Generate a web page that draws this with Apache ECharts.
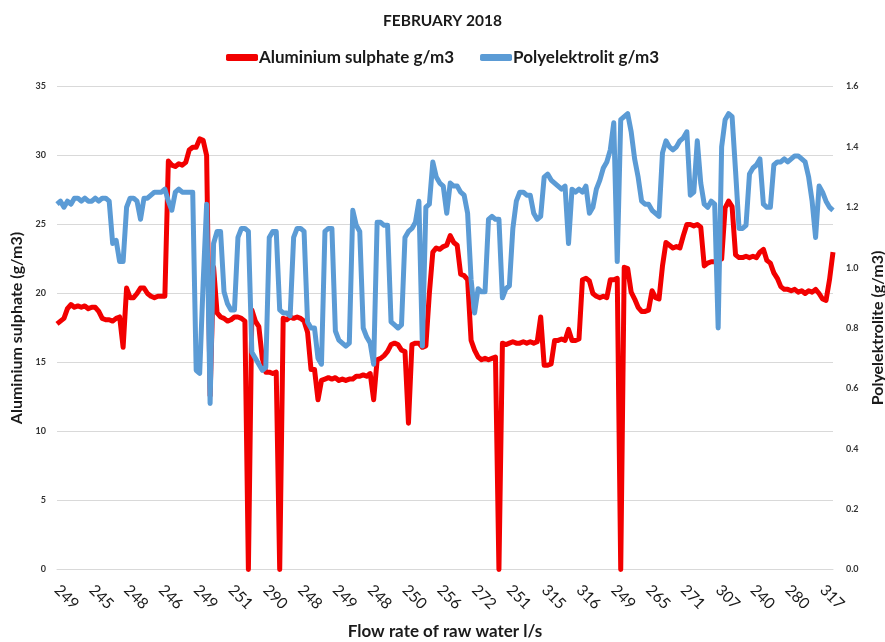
<!DOCTYPE html>
<html><head><meta charset="utf-8">
<script src="https://cdn.jsdelivr.net/npm/echarts@6/dist/echarts.min.js"></script>
<style>html,body{margin:0;padding:0;background:#fff}#c{width:885px;height:642px}</style>
</head><body><div id="c"></div>
<script>
const chartTitle = 'FEBRUARY 2018';
const seriesNames = ['Aluminium sulphate g/m3', 'Polyelektrolit g/m3'];
const leftAxisName = 'Aluminium sulphate (g/m3)';
const rightAxisName = 'Polyelektrolite (g/m3)';
const xAxisName = 'Flow rate of raw water l/s';
// flow-rate labels shown every labelStep readings
const flowLabels = ['249','245','248','246','249','251','290','248','249','248','250','256','272','251','315','316','249','265','271','307','240','280','317'];
const labelStep = 10;

const aluminium = [
17.8,18.0,18.2,18.9,19.2,19.0,19.1,19.0,19.1,18.9,
19.0,19.0,18.7,18.2,18.1,18.1,18.0,18.2,18.3,16.1,
20.4,19.7,19.7,20.0,20.4,20.4,20.0,19.8,19.7,19.8,
19.8,19.8,29.6,29.3,29.2,29.4,29.3,29.5,30.4,30.6,
30.6,31.2,31.1,30.0,12.6,21.9,18.6,18.3,18.2,18.0,
18.1,18.3,18.3,18.2,18.0,0,18.8,18.0,17.6,15.3,
14.3,14.3,14.2,14.3,0,18.2,18.1,18.3,18.2,18.3,
18.2,18.0,17.2,14.5,14.5,12.3,13.7,13.8,13.9,13.8,
13.9,13.7,13.8,13.7,13.8,13.8,14.0,14.0,14.1,14.0,
14.2,12.3,15.2,15.3,15.5,15.8,16.3,16.4,16.3,15.9,
15.8,10.6,16.3,16.4,16.4,16.1,16.2,20.0,23.0,23.3,
23.2,23.4,23.5,24.2,23.7,23.5,21.4,21.3,21.0,16.6,
15.9,15.4,15.2,15.3,15.2,15.3,15.4,0,16.4,16.3,
16.4,16.5,16.4,16.4,16.5,16.4,16.5,16.4,16.5,18.3,
14.8,14.8,14.9,16.6,16.6,16.7,16.6,17.4,16.6,16.6,
16.7,21.0,21.1,20.9,20.0,19.8,19.7,19.8,19.7,21.0,
21.0,21.1,0,21.9,21.8,20.1,19.6,19.0,18.7,18.7,
18.8,20.2,19.7,19.6,22.0,23.7,23.5,23.3,23.4,23.3,
24.2,25.0,25.0,24.9,25.0,24.8,22.0,22.2,22.3,22.3,
22.4,22.5,26.2,26.7,26.3,22.8,22.6,22.6,22.7,22.6,
22.7,22.6,23.0,23.2,22.4,22.2,21.5,21.1,20.5,20.3,
20.3,20.2,20.3,20.1,20.2,20.0,20.2,20.1,20.3,20.0,
19.6,19.5,21.0,23.0
];

const polyelektrolit = [
1.21,1.22,1.20,1.22,1.21,1.23,1.23,1.22,1.23,1.22,
1.22,1.23,1.22,1.23,1.23,1.22,1.08,1.09,1.02,1.02,
1.20,1.23,1.23,1.22,1.16,1.23,1.23,1.24,1.25,1.25,
1.25,1.26,1.22,1.19,1.25,1.26,1.25,1.25,1.25,1.25,
0.66,0.65,0.95,1.21,0.55,1.08,1.12,1.12,0.92,0.88,
0.86,0.86,1.10,1.13,1.13,1.12,0.72,0.70,0.68,0.66,
0.67,1.10,1.12,1.12,0.86,0.85,0.85,0.84,1.10,1.13,
1.13,1.12,0.82,0.80,0.80,0.70,0.68,1.12,1.13,1.13,
0.79,0.76,0.75,0.74,0.75,1.19,1.14,1.12,0.80,0.77,
0.75,0.68,1.15,1.15,1.14,1.14,0.82,0.81,0.80,0.81,
1.10,1.12,1.13,1.15,1.22,0.74,1.20,1.21,1.35,1.30,
1.28,1.27,1.18,1.28,1.27,1.27,1.25,1.24,1.18,0.96,
0.85,0.93,0.92,0.92,1.16,1.17,1.16,1.16,0.90,0.93,
0.94,1.13,1.22,1.25,1.25,1.24,1.24,1.18,1.16,1.17,
1.30,1.31,1.29,1.28,1.27,1.26,1.27,1.08,1.26,1.25,
1.26,1.25,1.27,1.18,1.20,1.26,1.29,1.33,1.35,1.39,
1.48,1.02,1.49,1.50,1.51,1.45,1.36,1.30,1.22,1.21,
1.21,1.19,1.18,1.17,1.38,1.42,1.40,1.39,1.40,1.42,
1.43,1.45,1.24,1.25,1.42,1.28,1.21,1.20,1.22,1.21,
0.80,1.40,1.49,1.51,1.50,1.32,1.13,1.13,1.14,1.31,
1.33,1.34,1.36,1.21,1.20,1.20,1.34,1.35,1.35,1.36,
1.35,1.36,1.37,1.37,1.36,1.35,1.30,1.22,1.10,1.27,
1.25,1.22,1.20,1.19
];

const leftTicks = {min: 0, max: 35, interval: 5};
const rightTicks = {min: 0, max: 1.6, interval: 0.2};

const categories = aluminium.map((_, i) => String(i));
const FONT = 'Lato, "Open Sans", sans-serif';

const chart = echarts.init(document.getElementById('c'), null, {renderer: 'canvas'});
chart.setOption({
  backgroundColor: '#ffffff',
  animation: false,
  title: {
    text: chartTitle, left: 'center', top: 8,
    textStyle: {fontFamily: FONT, fontSize: 15.5, fontWeight: 'bold', color: '#1a1a1a'}
  },
  legend: {
    top: 44, left: 'center', itemWidth: 32, itemHeight: 7, itemGap: 26,
    icon: 'roundRect',
    textStyle: {fontFamily: FONT, fontSize: 17, fontWeight: 'bold', color: '#1a1a1a', padding: [0,0,0,-4]},
    data: seriesNames
  },
  grid: {left: 57, right: 52, top: 86.5, bottom: 72.5, containLabel: false, outerBoundsMode: 'none'},
  xAxis: {
    type: 'category', data: categories, boundaryGap: false,
    name: xAxisName, nameLocation: 'middle', nameGap: 54,
    nameTextStyle: {fontFamily: FONT, fontSize: 17, fontWeight: 'bold', color: '#1a1a1a'},
    axisLine: {show: true, lineStyle: {color: '#d9d9d9', width: 1}},
    axisTick: {show: false},
    axisLabel: {
      interval: labelStep - 1, rotate: -45, margin: 18,
      fontFamily: FONT, fontSize: 15.5, color: '#1a1a1a',
      formatter: (v, idx) => (idx % labelStep === 0 ? flowLabels[idx / labelStep] : '')
    },
    splitLine: {show: false}
  },
  yAxis: [
    {
      type: 'value', position: 'left', min: leftTicks.min, max: leftTicks.max, interval: leftTicks.interval,
      name: leftAxisName, nameLocation: 'middle', nameGap: 30, nameRotate: 90,
      nameTextStyle: {fontFamily: FONT, fontSize: 16, fontWeight: 'bold', color: '#1a1a1a'},
      axisLine: {show: false}, axisTick: {show: false},
      axisLabel: {fontFamily: FONT, fontSize: 9, fontWeight: 'bold', color: '#333', margin: 11},
      splitLine: {show: true, lineStyle: {color: '#d9d9d9', width: 1}}
    },
    {
      type: 'value', position: 'right', min: rightTicks.min, max: rightTicks.max, interval: rightTicks.interval,
      name: rightAxisName, nameLocation: 'middle', nameGap: 36, nameRotate: 90,
      nameTextStyle: {fontFamily: FONT, fontSize: 16, fontWeight: 'bold', color: '#1a1a1a'},
      axisLine: {show: false}, axisTick: {show: false},
      axisLabel: {fontFamily: FONT, fontSize: 9, fontWeight: 'bold', color: '#333', margin: 13,
        formatter: v => v.toFixed(1)},
      splitLine: {show: false}
    }
  ],
  series: [
    {
      name: seriesNames[0], type: 'line', yAxisIndex: 0, data: aluminium,
      showSymbol: false, symbol: 'none', smooth: false, z: 2,
      lineStyle: {color: '#f20000', width: 5, join: 'round'},
      itemStyle: {color: '#f20000'}
    },
    {
      name: seriesNames[1], type: 'line', yAxisIndex: 1, data: polyelektrolit,
      showSymbol: false, symbol: 'none', smooth: false, z: 3,
      lineStyle: {color: '#5b9bd5', width: 5, join: 'round'},
      itemStyle: {color: '#5b9bd5'}
    }
  ]
});
</script>
</body></html>
